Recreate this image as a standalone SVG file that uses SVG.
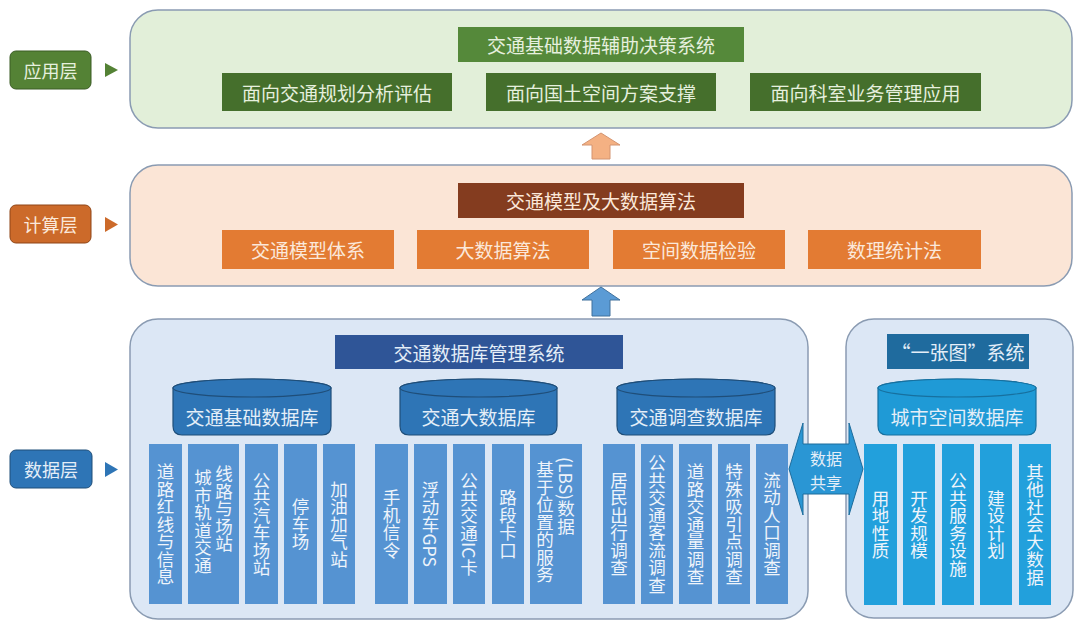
<svg xmlns="http://www.w3.org/2000/svg" width="1080" height="627" viewBox="0 0 1080 627">
<defs>
<style>
text{font-family:"Noto Sans CJK SC","Noto Sans",sans-serif;}
.t{font-size:19px;text-anchor:middle;dominant-baseline:central;}
.tg{fill:#e6f0de;}
.to{fill:#fbe8da;}
.tb{fill:#e4eef8;}
.lb{font-size:18px;}
.v{font-size:17.5px;fill:#eef4fb;writing-mode:vertical-rl;text-anchor:middle;}
.vs{font-size:17.5px;fill:#eef4fb;writing-mode:vertical-rl;text-anchor:start;}
.panel{stroke:#8a9bb2;stroke-width:1.5;}
.col{fill:#5593d2;}
.colr{fill:#22a0dc;}
.cyl{fill:#2e75b6;stroke:#1f4e79;stroke-width:1.2;}
.cylr{fill:#1f9ad6;stroke:#17709f;stroke-width:1.2;}
.share{font-size:16px;}
</style>
</defs>
<rect width="1080" height="627" fill="#ffffff"/>

<!-- layer labels -->
<g id="label-app">
<rect x="10" y="51" width="81" height="38" rx="6" fill="#548235" stroke="#3b5c25" stroke-width="1"/>
<text class="t lb tg" x="50.5" y="70">应用层</text>
<polygon points="105,63 118,70 105,77" fill="#548235"/>
</g>
<g id="label-calc">
<rect x="10" y="205" width="81" height="38" rx="6" fill="#cc6a2a" stroke="#8f4516" stroke-width="1"/>
<text class="t lb to" x="50.5" y="224">计算层</text>
<polygon points="105,217 118,224.5 105,232" fill="#cc6a2a"/>
</g>
<g id="label-data">
<rect x="10" y="450" width="82" height="38" rx="6" fill="#2e75b6" stroke="#1f4e79" stroke-width="1"/>
<text class="t lb tb" x="51" y="469">数据层</text>
<polygon points="105,462 118,469.5 105,477" fill="#2e75b6"/>
</g>

<!-- application layer -->
<g id="app-layer">
<rect class="panel" x="130" y="10" width="942" height="118" rx="28" fill="#e2efd9"/>
<g id="app-title"><rect x="458" y="27" width="286" height="35" fill="#55893a"/><text class="t tg" x="601" y="44.5">交通基础数据辅助决策系统</text></g>
<g id="app-1"><rect x="222" y="73" width="230" height="38" fill="#456f2c"/><text class="t tg" x="337" y="92">面向交通规划分析评估</text></g>
<g id="app-2"><rect x="486" y="73" width="230" height="38" fill="#456f2c"/><text class="t tg" x="601" y="92">面向国土空间方案支撑</text></g>
<g id="app-3"><rect x="750" y="73" width="231" height="38" fill="#456f2c"/><text class="t tg" x="865.5" y="92">面向科室业务管理应用</text></g>
</g>

<!-- computing layer -->
<g id="calc-layer">
<rect class="panel" x="130" y="165" width="942" height="121" rx="28" fill="#fbe5d6"/>
<g id="calc-title"><rect x="458" y="183" width="286" height="35" fill="#843c1f"/><text class="t to" x="601" y="200.5">交通模型及大数据算法</text></g>
<g id="calc-1"><rect x="222" y="230" width="172" height="39" fill="#e37b33"/><text class="t to" x="308" y="249.5">交通模型体系</text></g>
<g id="calc-2"><rect x="417" y="230" width="172" height="39" fill="#e37b33"/><text class="t to" x="503" y="249.5">大数据算法</text></g>
<g id="calc-3"><rect x="613" y="230" width="172" height="39" fill="#e37b33"/><text class="t to" x="699" y="249.5">空间数据检验</text></g>
<g id="calc-4"><rect x="808" y="230" width="173" height="39" fill="#e37b33"/><text class="t to" x="894.5" y="249.5">数理统计法</text></g>
</g>

<!-- data layer: traffic database management system -->
<g id="traffic-db-system">
<rect class="panel" x="130" y="319" width="678" height="300" rx="28" fill="#dce7f5"/>
<g id="db-title"><rect x="335" y="335" width="288" height="34" fill="#2f5597"/><text class="t tb" x="479" y="352">交通数据库管理系统</text></g>

<g id="db-basic">
<path class="cyl" d="M173,388 A79,9 0 0 1 331,388 L331,426 Q331,435 322,435 L182,435 Q173,435 173,426 Z"/>
<ellipse class="cyl" cx="252" cy="388" rx="79" ry="9"/>
<text class="t tb" x="252" y="416">交通基础数据库</text>
</g>
<g id="db-big">
<path class="cyl" d="M400,388 A78.5,9 0 0 1 557,388 L557,426 Q557,435 548,435 L409,435 Q400,435 400,426 Z"/>
<ellipse class="cyl" cx="478.5" cy="388" rx="78.5" ry="9"/>
<text class="t tb" x="478.5" y="416">交通大数据库</text>
</g>
<g id="db-survey">
<path class="cyl" d="M617,388 A79,9 0 0 1 775,388 L775,426 Q775,435 766,435 L626,435 Q617,435 617,426 Z"/>
<ellipse class="cyl" cx="696" cy="388" rx="79" ry="9"/>
<text class="t tb" x="696" y="416">交通调查数据库</text>
</g>

<g id="c1"><rect class="col" x="149" y="444" width="33" height="160"/><text class="v" x="165.5" y="524">道路红线与信息</text></g>
<g id="c2"><rect class="col" x="188" y="444" width="51" height="160"/><text class="vs" x="203" y="469">城市轨道交通</text><text class="vs" x="224" y="465">线路与场站</text></g>
<g id="c3"><rect class="col" x="245" y="444" width="33" height="160"/><text class="v" x="261.5" y="524">公共汽车场站</text></g>
<g id="c4"><rect class="col" x="284" y="444" width="33" height="160"/><text class="v" x="300.5" y="524">停车场</text></g>
<g id="c5"><rect class="col" x="323" y="444" width="32" height="160"/><text class="v" x="339" y="524">加油加气站</text></g>
<g id="c6"><rect class="col" x="375" y="444" width="33" height="160"/><text class="v" x="391.5" y="524">手机信令</text></g>
<g id="c7"><rect class="col" x="414" y="444" width="33" height="160"/><text class="v" x="430.5" y="524">浮动车GPS</text></g>
<g id="c8"><rect class="col" x="453" y="444" width="32" height="160"/><text class="v" x="469" y="524">公共交通IC卡</text></g>
<g id="c9"><rect class="col" x="492" y="444" width="32" height="160"/><text class="v" x="508" y="524">路段卡口</text></g>
<g id="c10"><rect class="col" x="530" y="444" width="52" height="160"/><text class="vs" x="545" y="461">基于位置的服务</text><text class="vs" x="566" y="457">(LBS)数据</text></g>
<g id="c11"><rect class="col" x="603" y="444" width="32" height="160"/><text class="v" x="619" y="524">居民出行调查</text></g>
<g id="c12"><rect class="col" x="641" y="444" width="32" height="160"/><text class="v" x="657" y="524">公共交通客流调查</text></g>
<g id="c13"><rect class="col" x="679" y="444" width="33" height="160"/><text class="v" x="695.5" y="524">道路交通量调查</text></g>
<g id="c14"><rect class="col" x="718" y="444" width="32" height="160"/><text class="v" x="734" y="524">特殊吸引点调查</text></g>
<g id="c15"><rect class="col" x="756" y="444" width="32" height="160"/><text class="v" x="772" y="524">流动人口调查</text></g>
</g>

<!-- data layer: one map system -->
<g id="one-map-system">
<rect class="panel" x="846" y="319" width="227" height="299" rx="28" fill="#dce7f5"/>
<g id="map-title"><rect x="887" y="334" width="142" height="35" fill="#1f6b9e"/><text class="t tb" x="958" y="351.5">“一张图”系统</text></g>
<g id="db-city">
<path class="cylr" d="M878,388 A79,9 0 0 1 1036,388 L1036,426 Q1036,435 1027,435 L887,435 Q878,435 878,426 Z"/>
<ellipse class="cylr" cx="957" cy="388" rx="79" ry="9"/>
<text class="t tb" x="957" y="416">城市空间数据库</text>
</g>
<g id="r1"><rect class="colr" x="864" y="444" width="33" height="161"/><text class="v" x="880.5" y="524.5">用地性质</text></g>
<g id="r2"><rect class="colr" x="903" y="444" width="32" height="161"/><text class="v" x="919" y="524.5">开发规模</text></g>
<g id="r3"><rect class="colr" x="942" y="444" width="32" height="161"/><text class="v" x="958" y="524.5">公共服务设施</text></g>
<g id="r4"><rect class="colr" x="980" y="444" width="32" height="161"/><text class="v" x="996" y="524.5">建设计划</text></g>
<g id="r5"><rect class="colr" x="1019" y="444" width="32" height="161"/><text class="v" x="1035" y="524.5">其他社会大数据</text></g>
</g>

<!-- connectors -->
<g id="connectors">
<polygon points="601,133 620,145 610,145 610,159 592,159 592,145 582,145" fill="#f4b183" stroke="#d49470" stroke-width="1"/>
<polygon points="601,287 620,300 610,300 610,316 592,316 592,300 582,300" fill="#5b9bd5" stroke="#41719c" stroke-width="1"/>
<g id="data-share">
<polygon points="789,469 803,423 803,444 849,444 849,423 863,469 849,515 849,494 803,494 803,515" fill="#2a96d4" stroke="#1d6c9c" stroke-width="1"/>
<text class="t tb share" x="826" y="457.5">数据</text>
<text class="t tb share" x="826" y="481.5">共享</text>
</g>
</g>
</svg>
